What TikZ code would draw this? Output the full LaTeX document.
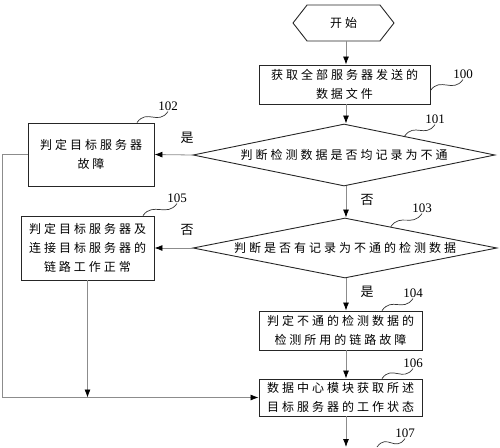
\documentclass[tikz,border=0pt]{standalone}
\usepackage{fontspec}
\setmainfont{Liberation Serif}
\newfontfamily\cjk[LetterSpace=25]{Noto Sans CJK SC}
\usetikzlibrary{arrows.meta,calc,shapes.geometric,shapes.symbols}

\begin{document}
\begin{tikzpicture}[x=1pt, y=-1pt]
        \tikzstyle Box Line=[draw=black!85, line width=0.9pt]
        \tikzstyle Step Box=[Box Line, rectangle, inner sep=0, align=center, font=\cjk\fontsize{12}{19}\selectfont]
        \tikzstyle Test Box=[Step Box, diamond, aspect=4.9]
        \tikzstyle Flow Line=[draw=black!45, line width=0.8pt, -{Latex[length=8pt, width=6pt, color=black]}]
        \tikzstyle Tag Line=[draw=black!80, line width=0.7pt]
        \tikzstyle Tag Text=[inner sep=1pt, font=\fontsize{13}{13}\selectfont]
        \tikzstyle Answer Text=[Tag Text, font=\cjk\fontsize{13}{13}\selectfont]

        \useasboundingbox (0, 0) rectangle (500, 447);

        % steps
        \node[Step Box, signal, signal to=east and west, signal pointer angle=104,
              minimum width=101pt, minimum height=36pt] (start) at (343.5, 23) {开始};
        \node[Step Box, minimum width=171pt, minimum height=39pt] (b100) at (344.5, 84.5)
            {获取全部服务器发送的\\数据文件};
        \node[Test Box, minimum width=302pt, minimum height=62pt] (d101) at (344, 155)
            {判断检测数据是否均记录为不通};
        \node[Step Box, minimum width=126pt, minimum height=63pt] (b102) at (91, 154.5)
            {判定目标服务器\\故障};
        \node[Test Box, minimum width=304pt, minimum height=60pt] (d103) at (345, 248)
            {判断是否有记录为不通的检测数据};
        \node[Step Box, minimum width=133pt, minimum height=64pt] (b105) at (87.5, 248)
            {判定目标服务器及\\连接目标服务器的\\链路工作正常};
        \node[Step Box, minimum width=163pt, minimum height=39pt] (b104) at (340.5, 330.5)
            {判定不通的检测数据的\\检测所用的链路故障};
        \node[Step Box, minimum width=163pt, minimum height=37pt] (b106) at (340.5, 397.5)
            {数据中心模块获取所述\\目标服务器的工作状态};
        \coordinate (end) at (346, 447);
        \coordinate (s107) at (377, 447);

        % answers
        \node[Answer Text] (yes101) at (187, 138) {是};
        \node[Answer Text] (no101) at (367, 200) {否};
        \node[Answer Text] (no103) at (187, 230) {否};
        \node[Answer Text] (yes103) at (367, 292) {是};

        % flow
        \draw[Flow Line] (start.south -| end) -- (b100.north -| end);
        \draw[Flow Line] (b100.south -| end) -- (d101.north -| end);
        \draw[Flow Line] (d101.west) -- (b102.east);
        \draw[Flow Line] (d101.south -| end) -- (d103.north -| end);
        \draw[Flow Line] (d103.west) -- (b105.east);
        \draw[Flow Line] (d103.south -| end) -- (b104.north -| end);
        \draw[Flow Line] (b104.south -| end) -- (b106.north -| end);
        \draw[Flow Line] (b106.south -| end) -- (end);
        \draw[Flow Line] (b102.west) -- ++(-25, 0) |- (b106.west);
        \draw[Flow Line] (b105.south) -- (b105.south |- b106.west);

        % step numbers
        \node[Tag Text] (t100) at (463, 74) {100};
        \node[Tag Text] (t101) at (435, 119) {101};
        \node[Tag Text] (t102) at (168, 106) {102};
        \node[Tag Text] (t103) at (422, 208) {103};
        \node[Tag Text] (t104) at (413, 293) {104};
        \node[Tag Text] (t105) at (177, 198) {105};
        \node[Tag Text] (t106) at (413, 363) {106};
        \node[Tag Text] (t107) at (405, 433) {107};

        \draw[Tag Line] ([yshift=-6pt]b100.east) .. controls +(10, -14) and +(-10, 14) .. (t100.south);
        \draw[Tag Line] ($(d101.north)!0.4!(d101.east)$) .. controls +(10, -14) and +(-10, 14) .. (t101.south);
        \draw[Tag Line] ([xshift=46pt]b102.north) .. controls +(10, -14) and +(-10, 14) .. (t102.south);
        \draw[Tag Line] ($(d103.north)!0.3!(d103.east)$) .. controls +(10, -14) and +(-10, 14) .. (t103.south);
        \draw[Tag Line] ([xshift=41.5pt]b104.north) .. controls +(10, -14) and +(-10, 14) .. (t104.south);
        \draw[Tag Line] ([xshift=55.5pt]b105.north) .. controls +(10, -14) and +(-10, 14) .. (t105.south);
        \draw[Tag Line] ([xshift=41.5pt]b106.north) .. controls +(10, -14) and +(-10, 14) .. (t106.south);
        \draw[Tag Line] (s107) .. controls +(10, -14) and +(-10, 14) .. (t107.south);
    \end{tikzpicture}
\end{document}
